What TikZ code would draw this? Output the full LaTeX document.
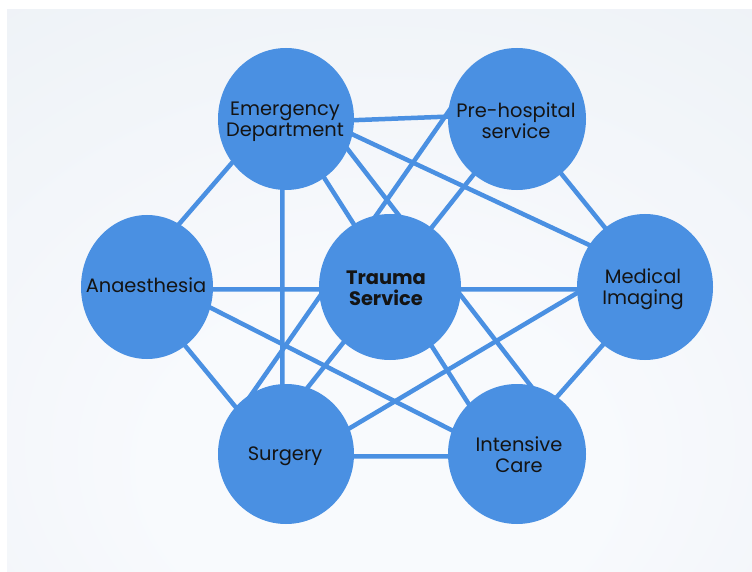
\documentclass[tikz,border=0pt]{standalone}
\usepackage{fontspec}
\setmainfont{Poppins}
\usetikzlibrary{shapes.geometric}
\definecolor{nodeblue}{HTML}{4A90E2}
\definecolor{bgin}{HTML}{F8FAFD}
\definecolor{bgout}{HTML}{E3E9F0}
\definecolor{txt}{HTML}{141414}
\pgfdeclareradialshading{bgshade}{\pgfpoint{0bp}{-20bp}}{color(0bp)=(bgin); color(15bp)=(bgin); color(75bp)=(bgout)}
\pgfdeclarelayer{bg}
\pgfdeclarelayer{edges}
\pgfsetlayers{bg,edges,main}
\begin{document}
\begin{tikzpicture}[x=1bp,y=-1bp,
  hub/.style={ellipse, fill=nodeblue, draw=none, inner sep=0pt, outer sep=0pt},
  lbl/.style={inner sep=0pt, align=center, text=txt, font=\fontsize{19.5}{21}\selectfont},
  link/.style={draw=nodeblue, line width=4.5bp, shorten <=-6bp, shorten >=-6bp}]
\useasboundingbox (0,0) rectangle (752,572);
% nodes
\node[hub, minimum width=136bp, minimum height=142bp] (ED) at (286,119) {};
\node[hub, minimum width=138bp, minimum height=142bp] (PH) at (517,119) {};
\node[hub, minimum width=132bp, minimum height=144bp] (AN) at (147,287) {};
\node[hub, minimum width=142bp, minimum height=146bp] (TS) at (390,287) {};
\node[hub, minimum width=136bp, minimum height=146bp] (MI) at (645,287) {};
\node[hub, minimum width=136bp, minimum height=140bp] (SU) at (286,454) {};
\node[hub, minimum width=138bp, minimum height=140bp] (IC) at (517,454) {};
% labels
\node[lbl] (EDt) at (285,122) {Emergency\\Department};
\node[lbl] (PHt) at (516,121) {Pre-hospital\\service};
\node[lbl] (ANt) at (146,285) {Anaesthesia};
\node[lbl, font=\fontsize{19.5}{21}\selectfont\bfseries] (TSt) at (386,288) {Trauma\\Service};
\node[lbl] (MIt) at (643,289) {Medical\\Imaging};
\node[lbl] (SUt) at (285,456) {Surgery};
\node[lbl] (ICt) at (519,455) {Intensive\\Care};
% background
\begin{pgfonlayer}{bg}
\fill[white] (0,0) rectangle (752,572);
\shade[shading=bgshade] (7,10) rectangle (752,572);
\end{pgfonlayer}
% connectors
\begin{pgfonlayer}{edges}
\draw[link] (ED.-1) -- (PH.178);
\draw[link] (ED.-13) -- (MI.143);
\draw[link] (ED.219) -- (AN.63);
\draw[link] (ED.267) -- (SU.93);
\draw[link] (ED.-57) -- (IC.134);
\draw[link] (ED.-26) -- (IC.79);
\draw[link] (PH.232) -- (TS.55);
\draw[link] (PH.174) -- (SU.119);
\draw[link] (PH.-51) -- (MI.124);
\draw[link] (AN.-2) -- (MI.182);
\draw[link] (AN.-18) -- (IC.160);
\draw[link] (AN.-57) -- (SU.137);
\draw[link] (TS.230) -- (SU.72);
\draw[link] (MI.185) -- (SU.22);
\draw[link] (MI.234) -- (IC.55);
\draw[link] (SU.-2) -- (IC.182);
\end{pgfonlayer}
\end{tikzpicture}
\end{document}
